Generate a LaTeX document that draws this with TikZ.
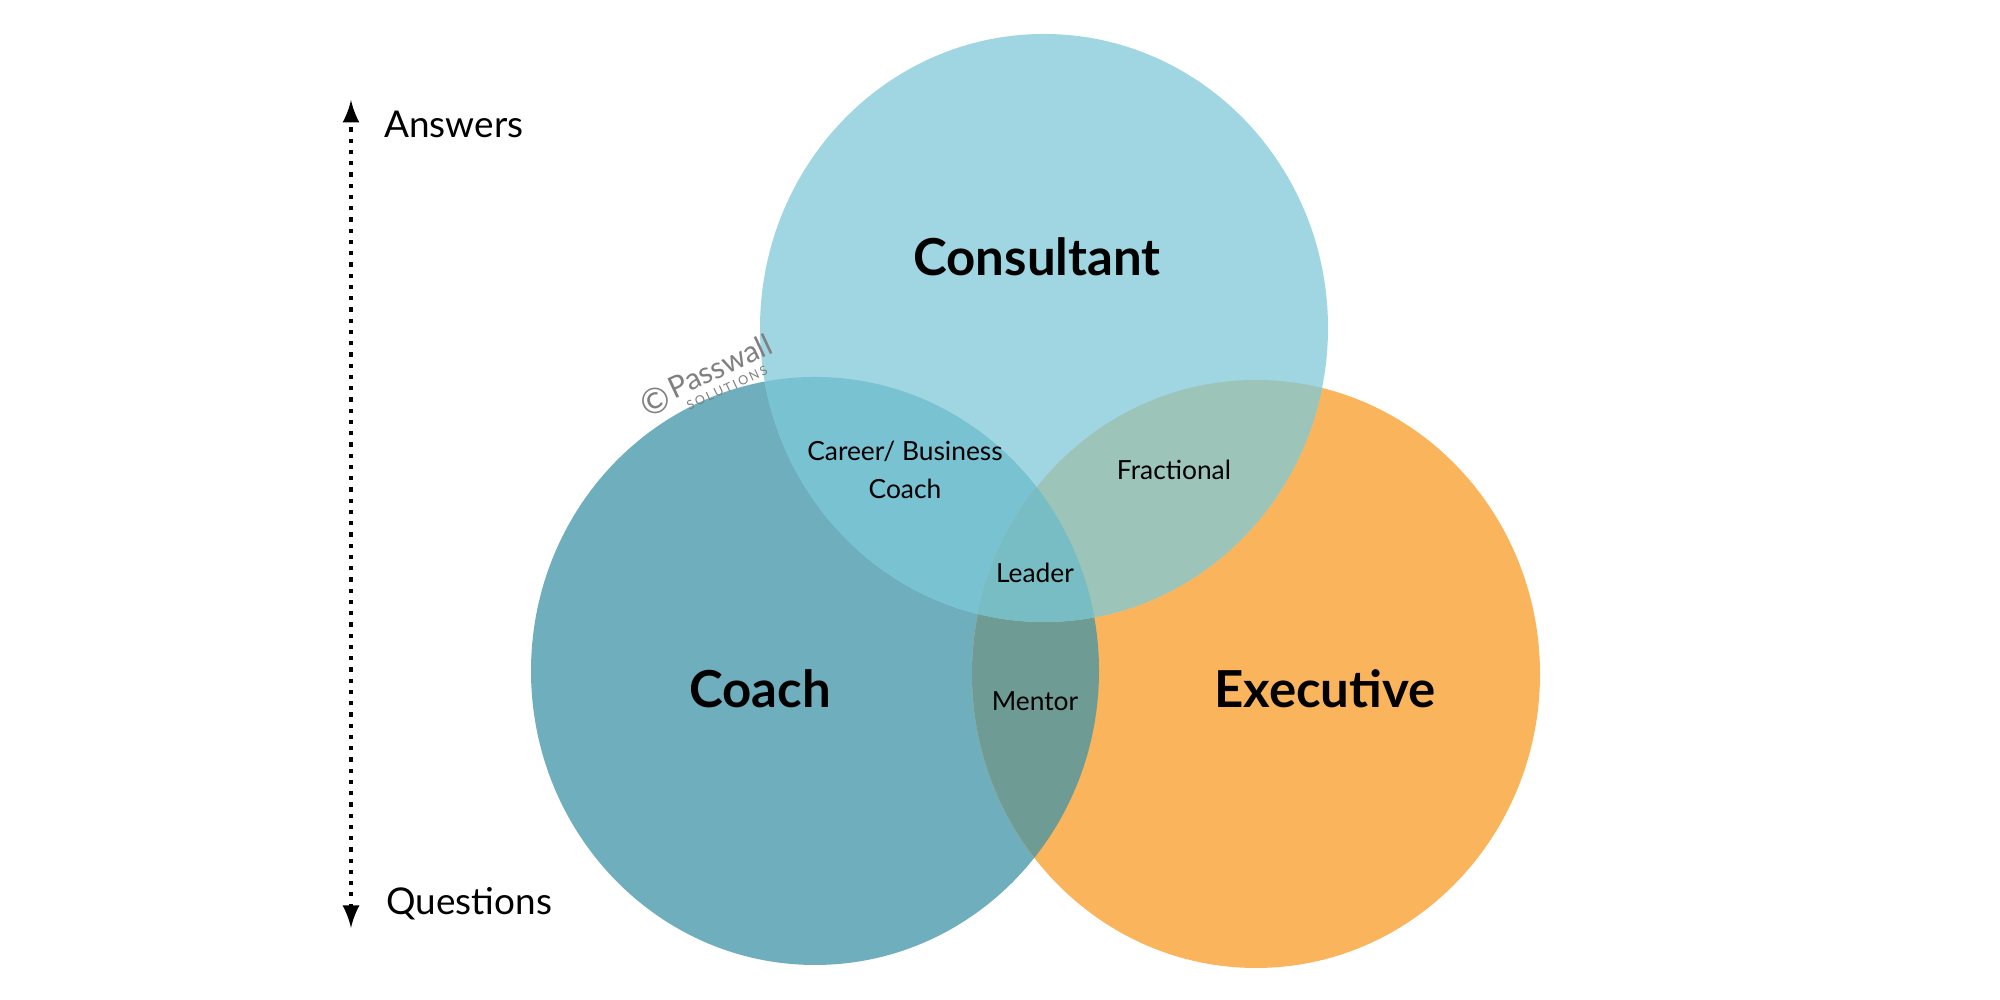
\documentclass[tikz,border=0pt]{standalone}
\usepackage{fontspec}
\setmainfont{Lato}
\usetikzlibrary{positioning}
\definecolor{consult}{HTML}{9FD6E1}
\definecolor{coach}{HTML}{6FAFBD}
\definecolor{exec}{HTML}{FAB55C}
\definecolor{coachcons}{HTML}{78C2D1}
\definecolor{consexec}{HTML}{9CC4B8}
\definecolor{coachexec}{HTML}{6E9B93}
\definecolor{allthree}{HTML}{78BCC4}
\definecolor{mark}{HTML}{808080}
\newcommand{\consultpath}{(10.44,6.72) ellipse [x radius=2.84, y radius=2.94]}
\newcommand{\coachpath}{(8.15,3.29) ellipse [x radius=2.84, y radius=2.94]}
\newcommand{\execpath}{(12.56,3.26) ellipse [x radius=2.84, y radius=2.94]}

\begin{document}
\begin{tikzpicture}[
    >=latex,
    % text styles
    big/.style = {font=\bfseries\fontsize{14.5}{17}\selectfont},
    small/.style = {font=\fontsize{7.5}{11}\selectfont, align=center},
    axis/.style = {font=\fontsize{10.5}{13}\selectfont, anchor=west},
    wmark/.style = {rotate=25, text=mark, inner sep=0pt},
    % arrow style
    scalearr/.style = {<->, line width=1.2pt, dotted}
  ]
  \useasboundingbox (0,0) rectangle (20,10);

  % --- Circles
  \fill[coach] \coachpath;
  \fill[exec] \execpath;
  \fill[consult] \consultpath;
  \begin{scope}
    \clip \coachpath;
    \fill[coachcons] \consultpath;
    \fill[coachexec] \execpath;
    \clip \execpath;
    \fill[allthree] \consultpath;
  \end{scope}
  \begin{scope}
    \clip \execpath;
    \clip \consultpath;
    \fill[consexec] (8,0) rectangle (16,10);
    \clip \coachpath;
    \fill[allthree] (8,0) rectangle (16,10);
  \end{scope}

  % --- Labels
  \node[big] (cons) at (10.37,7.43) {Consultant};
  \node[big] (coach) at (7.60,3.11) {Coach};
  \node[big] (exec) at (13.25,3.11) {Executive};
  \node[small] (career) at (9.05,5.30) {Career/ Business\\Coach};
  \node[small] (frac) at (11.74,5.30) {Fractional};
  \node[small] (lead) at (10.35,4.27) {Leader};
  \node[small] (ment) at (10.35,2.99) {Mentor};

  % --- Watermark
  \node[wmark, font=\fontsize{10}{10}\selectfont] (copy) at (6.55,5.99) {\textcopyright};
  \node[wmark, font=\fontsize{8.5}{9}\selectfont] (pw) at (7.20,6.34) {Passwall};
  \node[wmark, font=\fontsize{3.6}{4}\selectfont] (sol) at (7.27,6.12) {S\,O\,L\,U\,T\,I\,O\,N\,S};

  % --- Scale
  \coordinate (top) at (3.51,9.00);
  \coordinate (bot) at (3.51,0.72);
  \draw[scalearr] (bot) -- (top);
  \node[axis] (ans) at (3.72,8.76) {Answers};
  \node[axis] (qst) at (3.74,0.96) {Questions};
\end{tikzpicture}
\end{document}
